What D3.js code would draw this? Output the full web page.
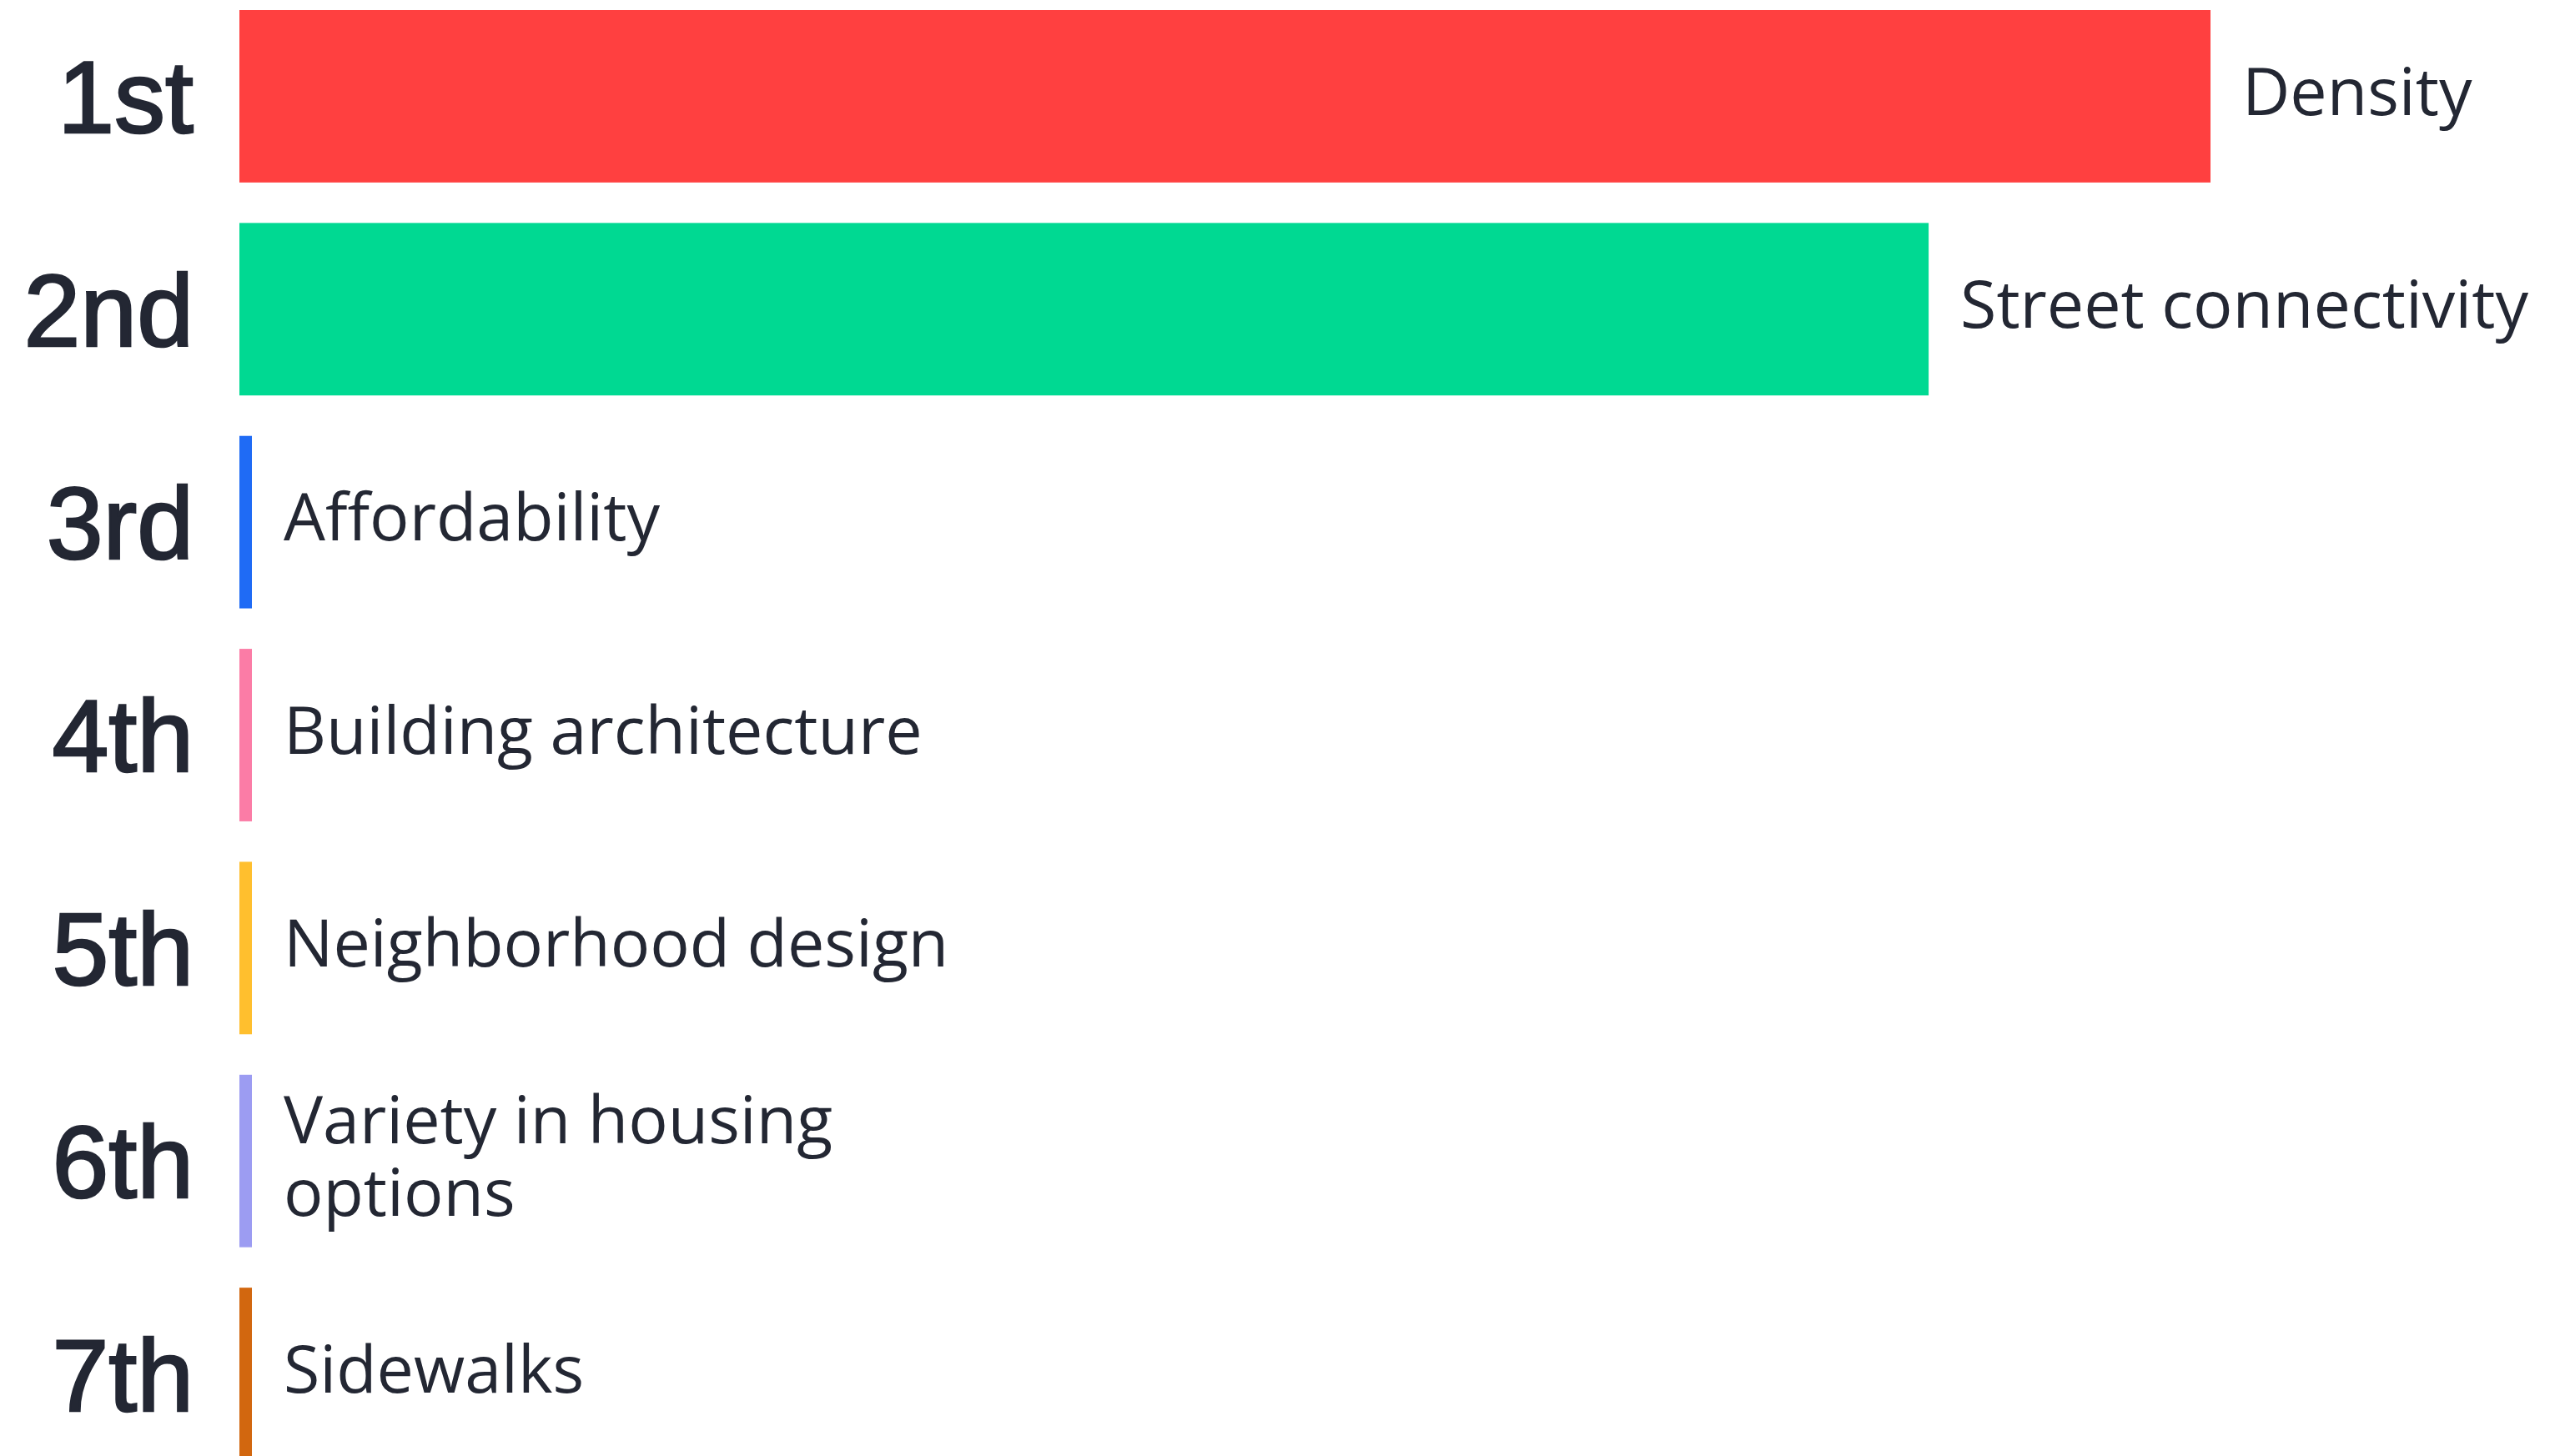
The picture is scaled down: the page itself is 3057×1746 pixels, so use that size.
<!DOCTYPE html>
<html>
<head>
<meta charset="utf-8">
<script src="https://cdn.jsdelivr.net/npm/d3@7"></script>
<style>
  html, body { margin: 0; padding: 0; background: #fff; }
  svg { display: block; }
</style>
</head>
<body>
<svg id="chart"></svg>
<script>
// chart data
const ranks = ['1st', '2nd', '3rd', '4th', '5th', '6th', '7th'];
const factors = ['Density', 'Street connectivity', 'Affordability', 'Building architecture',
  'Neighborhood design', 'Variety in housing\noptions', 'Sidewalks'];
const values = [100, 85.7, 0, 0, 0, 0, 0];
const colors = ['#ff4040', '#00d992', '#1f6bf5', '#fb7ca6', '#ffbf2e', '#9c9cf2', '#d2670f'];

// Dimensions
const width = 3057;
const height = 1746;
const margin = { top: 12, right: 407, bottom: -5, left: 287 };
const stubWidth = 15;   // rows without a bar still get a thin marker
const labelGap = 38;
const textColor = '#232733';

const svg = d3.select('#chart')
  .attr('width', width)
  .attr('height', height);

// Y scale (one band per rank)
const y = d3.scaleBand()
  .domain(ranks)
  .range([margin.top, height - margin.bottom])
  .paddingInner(0.19)
  .paddingOuter(0);

// X scale
const x = d3.scaleLinear()
  .domain([0, d3.max(values)])
  .range([margin.left, width - margin.right]);

const rows = ranks.map((r, i) => ({ rank: r, factor: factors[i], value: values[i], color: colors[i] }));
const barEnd = d => Math.max(x(d.value), x(0) + stubWidth);

// Rank axis on the left
svg.append('g')
  .attr('transform', `translate(${margin.left - 55},0)`)
  .call(d3.axisLeft(y).tickSize(0).tickPadding(0))
  .call(g => g.select('.domain').remove())
  .selectAll('text')
  .attr('font-family', '"Liberation Sans", Arial, sans-serif')
  .attr('font-size', 122)
  .attr('fill', textColor)
  .attr('stroke', textColor)
  .attr('stroke-width', 2.5)   // a touch heavier than regular
  .attr('dy', '0.36em');

// Bars
svg.selectAll('rect.bar')
  .data(rows)
  .enter().append('rect')
  .attr('class', 'bar')
  .attr('x', x(0))
  .attr('y', d => y(d.rank))
  .attr('width', d => barEnd(d) - x(0))
  .attr('height', y.bandwidth())
  .attr('fill', d => d.color);

// Factor labels
const labels = svg.selectAll('text.factor')
  .data(rows)
  .enter().append('text')
  .attr('class', 'factor')
  .attr('font-family', '"Open Sans", sans-serif')
  .attr('font-size', 79)
  .attr('fill', textColor)
  .attr('transform', d => `translate(${barEnd(d) + labelGap},${y(d.rank) + y.bandwidth() / 2})`);

labels.each(function(d) {
  const lines = d.factor.split('\n');
  const lineH = 1.1;
  const start = 0.28 - (lines.length - 1) * lineH / 2;
  d3.select(this).selectAll('tspan')
    .data(lines)
    .enter().append('tspan')
    .attr('x', 0)
    .attr('dy', (l, i) => i === 0 ? start + 'em' : lineH + 'em')
    .text(l => l);
});
</script>
</body>
</html>
